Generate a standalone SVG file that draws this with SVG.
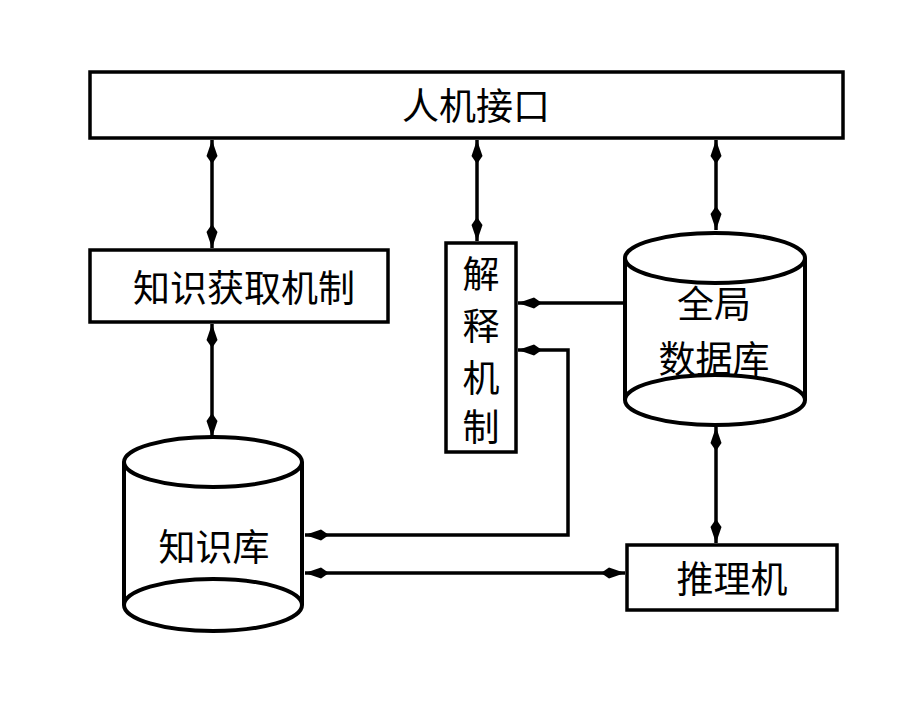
<svg xmlns="http://www.w3.org/2000/svg" width="920" height="717" viewBox="0 0 920 717">
<defs>
<style>
.box{fill:#fff;stroke:#000;stroke-width:3.5}
.cyl{fill:#fff;stroke:#000;stroke-width:4}
.ln{fill:none;stroke:#000;stroke-width:3.5}
.t{font-family:"Noto Sans CJK SC","Liberation Sans",sans-serif;font-size:37px;fill:#000;text-anchor:middle;dominant-baseline:central}
</style>
<marker id="ah" markerUnits="userSpaceOnUse" markerWidth="26" markerHeight="14" viewBox="0 0 26 14" refX="24" refY="7" orient="auto-start-reverse">
<path d="M0,7 L8,1.5 L24,7 L8,12.5 Z" fill="#000"/>
</marker>
</defs>
<rect width="920" height="717" fill="#fff"/>
<g id="connectors">
<line class="ln" x1="212" y1="140" x2="212" y2="248" marker-start="url(#ah)" marker-end="url(#ah)"/>
<line class="ln" x1="477" y1="140" x2="477" y2="241" marker-start="url(#ah)" marker-end="url(#ah)"/>
<line class="ln" x1="716" y1="140" x2="716" y2="230" marker-start="url(#ah)" marker-end="url(#ah)"/>
<line class="ln" x1="212" y1="324" x2="212" y2="437" marker-start="url(#ah)" marker-end="url(#ah)"/>
<line class="ln" x1="625" y1="303" x2="518" y2="303" marker-end="url(#ah)"/>
<polyline class="ln" points="518,350 568,350 568,535 305,535" marker-start="url(#ah)" marker-end="url(#ah)"/>
<line class="ln" x1="305" y1="573" x2="625" y2="573" marker-start="url(#ah)" marker-end="url(#ah)"/>
<line class="ln" x1="716" y1="427" x2="716" y2="543" marker-start="url(#ah)" marker-end="url(#ah)"/>
</g>
<g id="hmi">
<rect class="box" x="90" y="72" width="753" height="66"/>
<text class="t" x="476" y="104">人机接口</text>
</g>
<g id="acquisition">
<rect class="box" x="90" y="250" width="298" height="72"/>
<text class="t" x="244" y="286">知识获取机制</text>
</g>
<g id="explain">
<rect class="box" x="446" y="243" width="70" height="209"/>
<text class="t" x="481" y="272">解</text>
<text class="t" x="481" y="324">释</text>
<text class="t" x="481" y="376">机</text>
<text class="t" x="481" y="425">制</text>
</g>
<g id="globaldb">
<path class="cyl" d="M625,258 L625,400 A90,25 0 0 0 805,400 L805,258"/>
<ellipse class="cyl" cx="715" cy="258" rx="90" ry="25"/>
<path class="cyl" d="M625,400 A90,25 0 0 1 805,400" fill="none"/>
<text class="t" x="714" y="302">全局</text>
<text class="t" x="714" y="357">数据库</text>
</g>
<g id="kb">
<path class="cyl" d="M124,462 L124,605 A89,26 0 0 0 302,605 L302,462"/>
<ellipse class="cyl" cx="213" cy="462" rx="89" ry="25"/>
<path class="cyl" d="M124,605 A89,26 0 0 1 302,605" fill="none"/>
<text class="t" x="214" y="545">知识库</text>
</g>
<g id="inference">
<rect class="box" x="627" y="545" width="210" height="65"/>
<text class="t" x="732" y="577">推理机</text>
</g>
</svg>
